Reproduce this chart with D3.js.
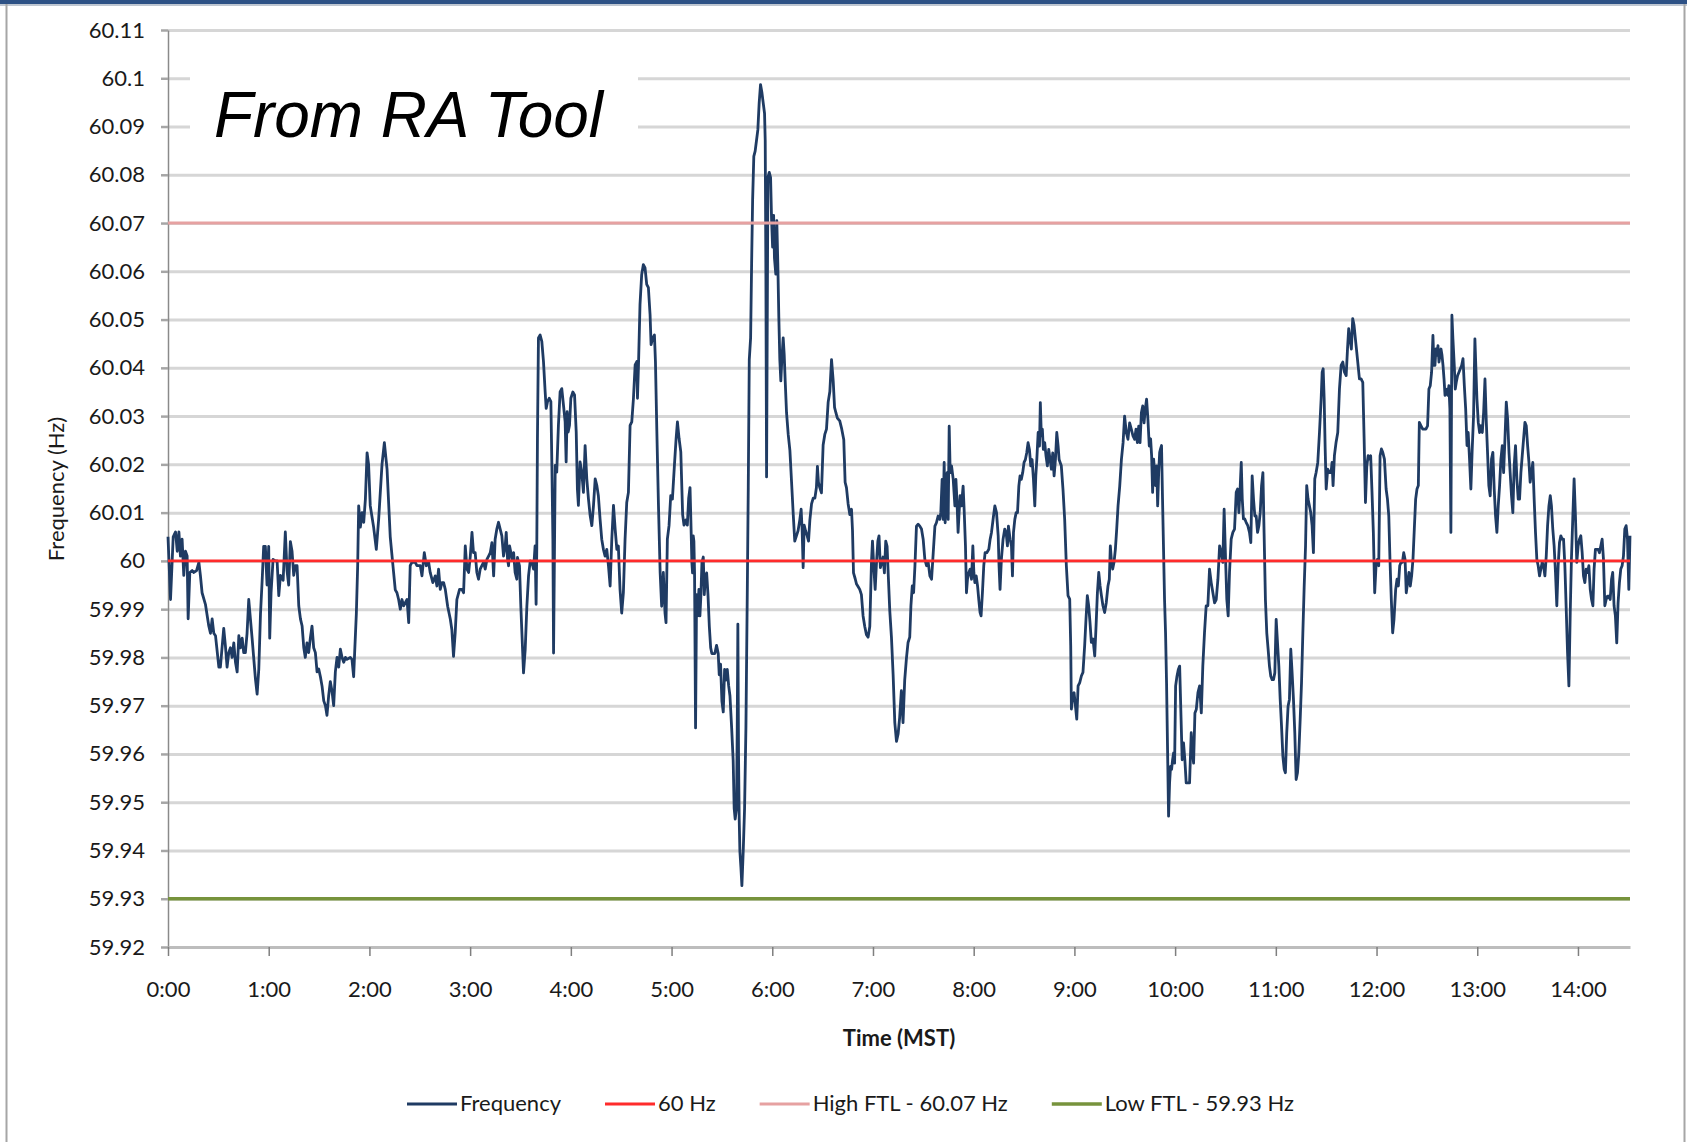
<!DOCTYPE html>
<html><head><meta charset="utf-8">
<script src="https://cdn.jsdelivr.net/npm/d3@7"></script>
<style>
html,body{margin:0;padding:0;background:#fff;}
svg{display:block;}
</style></head><body>
<svg id="chart" width="1687" height="1142"></svg>
<script>
// ---------------- DATA ----------------
const yTickValues = [60.11,60.1,60.09,60.08,60.07,60.06,60.05,60.04,60.03,60.02,60.01,60,59.99,59.98,59.97,59.96,59.95,59.94,59.93,59.92];
const yTickLabels = ["60.11","60.1","60.09","60.08","60.07","60.06","60.05","60.04","60.03","60.02","60.01","60","59.99","59.98","59.97","59.96","59.95","59.94","59.93","59.92"];
const xTickValues = [0,60,120,180,240,300,360,420,480,540,600,660,720,780,840]; // minutes
const xTickLabels = ["0:00","1:00","2:00","3:00","4:00","5:00","6:00","7:00","8:00","9:00","10:00","11:00","12:00","13:00","14:00"];
const timeDomain = [0, 871];
const freqDomain = [59.92, 60.11];
const seriesNames = ["Frequency","60 Hz","High FTL - 60.07 Hz","Low FTL - 59.93 Hz"];
const seriesColors = ["#1f3b63","#ff2b2b","#e6a1a1","#77933c"];
const referenceValues = [60, 60.07, 59.93]; // 60 Hz, High FTL, Low FTL
const annotationText = "From RA Tool";
// [minutes after 0:00 MST, frequency Hz]
const frequencySeries = [
[0,60.005],[1.5,59.992],[3.1,60.005],[4.5,60.006],[5.5,60.002],[6.5,60.006],[7.4,60.001],[8.4,60.0045],[9.4,59.997],[10.4,60.002],[11.4,60.001],[12.0,59.988],[13.0,59.9976],[14.4,59.998],[15.4,59.9976],[17.0,59.998],[18.4,59.9997],[19.3,59.997],[20.3,59.9934],[22.3,59.991],[24.3,59.9865],[25.3,59.985],[26.3,59.988],[27.3,59.985],[28.3,59.9845],[30.3,59.978],[31.2,59.978],[33.2,59.986],[34.2,59.9824],[35.2,59.978],[36.2,59.981],[37.2,59.982],[38.2,59.980],[39.2,59.983],[40.2,59.979],[41.2,59.977],[42.2,59.9845],[43.2,59.982],[44.2,59.984],[45.1,59.981],[46.1,59.981],[47.1,59.985],[48.1,59.992],[49.1,59.988],[50.1,59.984],[52.1,59.9755],[53.1,59.9724],[54.1,59.9776],[55.1,59.989],[56.1,59.996],[57.0,60.003],[58.0,60.003],[59.0,59.995],[60.0,60.003],[60.6,59.984],[61.4,59.9934],[62.6,60.0003],[64.0,60.000],[65.0,60.000],[66.0,59.9928],[67.0,59.997],[68.6,59.996],[69.9,60.006],[70.9,59.998],[71.9,59.995],[72.9,60.004],[73.9,60.002],[74.9,59.997],[75.9,59.999],[76.9,59.999],[77.9,59.9907],[78.9,59.988],[79.9,59.9865],[80.9,59.982],[81.8,59.980],[82.8,59.983],[83.8,59.981],[84.8,59.984],[85.8,59.9865],[86.8,59.982],[87.8,59.981],[88.8,59.977],[89.8,59.9776],[90.8,59.976],[91.8,59.974],[92.8,59.971],[93.8,59.970],[94.7,59.968],[95.7,59.972],[96.7,59.975],[97.7,59.973],[98.7,59.970],[99.7,59.977],[100.7,59.980],[101.7,59.978],[102.7,59.9817],[103.7,59.980],[104.7,59.979],[105.7,59.980],[106.6,59.9796],[108.6,59.980],[109.6,59.9796],[110.6,59.976],[111.2,59.981],[112.2,59.989],[113.0,59.999],[113.6,60.0114],[114.6,60.007],[115.6,60.010],[116.6,60.008],[117.6,60.0128],[118.6,60.0224],[119.5,60.020],[120.5,60.0114],[122.5,60.007],[124.1,60.0024],[125.5,60.0086],[127.5,60.020],[128.9,60.0245],[130.5,60.019],[132.4,60.005],[134.4,59.9976],[135.4,59.994],[136.4,59.9934],[137.4,59.992],[138.4,59.990],[139.4,59.992],[140.4,59.9907],[142.4,59.992],[143.4,59.9872],[144.3,59.999],[145.3,59.9997],[147.3,59.9997],[148.3,59.999],
[150.3,59.999],[151.3,59.9969],[152.7,60.0017],[153.9,59.999],[155.3,59.9997],[156.2,59.9976],[157.8,59.9955],[159.2,59.9969],[160.2,59.9948],[161.2,59.9983],[162.2,59.9941],[163.2,59.9955],[164.2,59.9955],[165.2,59.9941],[166.6,59.9906],[168.2,59.9879],[169.1,59.9858],[170.1,59.9802],[171.1,59.9851],[172.1,59.992],[173.7,59.9941],[175.1,59.9941],[176.1,59.9934],[177.1,60.0031],[178.1,59.9983],[179.1,59.9976],[180.1,60.001],[181.1,60.0059],[182.0,60.0017],[183.0,60.0017],[184.0,59.9976],[185.0,59.9962],[186.0,59.9983],[187.0,59.999],[188.0,59.9997],[189.0,59.9983],[190.0,60.0003],[191.0,60.001],[192.0,60.0017],[193.0,60.0038],[194.0,59.9969],[194.9,60.0045],[195.9,60.0066],[196.9,60.008],[197.9,60.0066],[198.9,60.0052],[199.9,60.001],[200.9,60.0031],[201.5,60.0059],[202.3,60.0003],[202.9,59.999],[203.5,60.0031],[204.3,60.0017],[205.1,60.0003],[205.9,60.0017],[206.8,59.9976],[207.8,59.9962],[208.2,60.0007],[209.4,59.999],[210.2,59.9906],[211.0,59.9837],[211.8,59.9768],[212.8,59.9816],[213.8,59.9906],[214.8,59.9969],[215.8,60.0],[216.8,59.9997],[217.8,59.9983],[218.7,60.0031],[219.3,59.991],[219.7,60.0024],[220.1,60.0253],[220.7,60.0462],[221.7,60.0468],[222.7,60.0455],[223.7,60.0413],[224.7,60.035],[225.3,60.0316],[226.1,60.033],[227.1,60.0337],[228.1,60.033],[228.7,60.0198],[229.3,60.0045],[229.7,59.9809],[230.3,60.0045],[230.7,60.0198],[231.6,60.0184],[232.6,60.0281],[233.6,60.035],[234.6,60.0357],[235.6,60.0323],[236.6,60.0288],[237.2,60.0205],[237.8,60.0309],[238.4,60.0267],[239.2,60.0281],[240.0,60.0337],[241.2,60.035],[242.2,60.0344],[243.2,60.0267],[243.9,60.0149],[244.5,60.0115],[245.5,60.0205],[246.5,60.0184],[247.5,60.0142],[248.5,60.0239],[249.5,60.017],[250.5,60.0128],[251.5,60.0094],[252.5,60.0073],[253.5,60.0115],[254.5,60.017],[255.5,60.0156],[256.4,60.0135],[257.4,60.0087],[258.4,60.0045],[259.4,60.0024],[260.4,60.001],[261.4,60.0024],[262.4,59.999],[263.4,59.9948],[264.4,60.0045],[265.4,60.0115],[266.4,60.0066],[267.4,60.0024],[268.3,60.0031],[269.3,59.9941],[270.3,59.9892],[271.3,59.9934],[272.3,60.0045],[273.3,60.0121],[274.3,60.0142],[275.3,60.0281],[276.3,60.0288],[277.3,60.0337],[278.3,60.0406],[279.3,60.0413],[279.7,60.0337],[280.3,60.0406],[281.2,60.0531],[282.2,60.0593],[283.2,60.0614],[284.2,60.0607],[285.2,60.0573],[286.2,60.0566],[287.2,60.051],[287.8,60.0448],[288.8,60.0462],[289.8,60.0468],[290.4,60.0413],[291.2,60.0274],[292.2,60.0115],[293.2,59.9976],[294.1,59.9906],[295.1,59.9976],[296.1,59.9892],[296.7,59.9872],[297.5,60.0045],[298.5,60.0073],[299.5,60.0135],[300.5,60.0128],[301.7,60.0198],[302.7,60.0253],[303.5,60.0288],[304.5,60.0253],[305.5,60.0226],
[306.6,60.0096],[307.4,60.0074],[308.6,60.0085],[309.4,60.0074],[310.2,60.013],[311.0,60.0152],[311.5,60.0085],[312.1,59.9997],[312.5,59.9975],[312.9,60.0052],[313.3,60.0041],[313.7,59.9975],[314.3,59.9654],[314.9,59.993],[315.5,59.9886],[316.3,59.9941],[316.9,59.9886],[317.5,59.993],[318.1,59.9997],[318.9,60.0008],[319.5,59.993],[320.1,59.9963],[320.9,59.9975],[321.7,59.993],[322.5,59.9864],[323.3,59.982],[324.0,59.9808],[324.8,59.9808],[325.8,59.9808],[326.8,59.9825],[327.8,59.9808],[328.4,59.9764],[329.2,59.9786],[330.0,59.9709],[330.8,59.9687],[331.6,59.9775],[332.4,59.9753],[333.2,59.9775],[334.0,59.9742],[334.8,59.972],[335.8,59.9654],[336.7,59.9587],[337.3,59.9487],[337.9,59.9465],[338.7,59.9487],[339.1,59.9642],[339.5,59.9869],[339.9,59.9598],[340.3,59.9465],[340.7,59.9399],[341.3,59.9366],[341.9,59.9327],[342.7,59.9399],[343.5,59.9487],[344.3,59.9654],[345.1,59.993],[345.7,60.0152],[346.3,60.0417],[347.1,60.0462],[347.7,60.0617],[348.3,60.0749],[349.0,60.0838],[349.8,60.0849],[350.6,60.0871],[351.4,60.0893],[352.2,60.0949],[353.0,60.0987],[353.8,60.0971],[354.6,60.0949],[355.4,60.0927],[355.8,60.0871],[356.2,60.0594],[356.6,60.0174],[357.0,60.0484],[357.4,60.0794],[358.2,60.0805],[359.0,60.0794],[359.6,60.0705],[360.2,60.065],[360.8,60.0716],[361.3,60.0628],[362.1,60.0594],[362.7,60.0705],[363.3,60.0617],[363.9,60.0506],[364.5,60.0417],[365.1,60.0373],[365.7,60.0417],[366.5,60.0462],[367.1,60.0428],[367.7,60.0373],[368.5,60.0307],[369.5,60.0262],[370.5,60.0229],[371.5,60.0163],[372.5,60.0096],[373.4,60.0041],[374.4,60.0052],[375.4,60.0063],[376.4,60.0085],[377.2,60.0107],[377.8,60.0063],[378.4,59.9986],[379.0,60.0074],[379.8,60.0063],[380.8,60.0052],[381.6,60.0041],[382.4,60.0085],[383.4,60.0118],[384.4,60.013],[385.4,60.013],[386.3,60.0152],[386.9,60.0196],[387.5,60.0163],[388.3,60.0152],[389.3,60.0141],[390.3,60.024],[391.3,60.0262],[392.3,60.0273],[393.3,60.0329],[394.3,60.0351],[395.3,60.0417],[396.3,60.0373],[397.1,60.0318],[397.9,60.0307],[398.8,60.0296],[400.2,60.029],[401.4,60.0273],[402.6,60.0251],[403.4,60.0163],[404.2,60.0152],[405.2,60.0118],[406.2,60.0096],[407.2,60.0107],[407.8,60.0063],[408.4,59.9975],[409.4,59.9963],[410.2,59.9952],[411.1,59.9947],[412.1,59.9941],[413.1,59.993],[414.1,59.9886],[415.1,59.9864],[416.1,59.9847],[417.1,59.9842],[418.1,59.9864],[419.1,59.9997],[419.7,60.0041],[420.5,59.9986],[421.3,59.9941],[422.1,59.9997],[422.9,60.0041],[423.6,60.0052],[424.4,59.9986],[425.2,59.9997],[426.0,60.0008],[426.8,59.9975],[427.6,60.0041],[428.4,60.003],[429.2,59.9963],[430.0,59.9897],[431.0,59.9842],[432.0,59.9764],[433.0,59.9665],[434.0,59.9626],[435.0,59.9642],[435.9,59.9676],[436.9,59.9731],[437.9,59.9665],[438.9,59.9753],[439.9,59.9797],[440.9,59.9831],[441.9,59.9842],
[442.6,59.9907],[443.4,59.9948],[444.2,59.9934],[445.0,59.999],[445.9,60.0072],[446.9,60.0076],[447.9,60.0072],[448.9,60.0066],[449.9,60.0045],[450.9,60.0003],[451.9,59.999],[452.9,59.9997],[453.9,59.9969],[454.9,59.9962],[455.9,60.0017],[456.9,60.0072],[457.8,60.0079],[458.8,60.0093],[459.8,60.0086],[460.4,60.01],[461.2,60.0169],[461.8,60.0086],[462.4,60.0204],[463.0,60.0079],[463.6,60.0135],[464.2,60.0183],[464.8,60.0086],[465.4,60.0279],[466.0,60.0183],[466.8,60.0197],[467.8,60.0169],[468.8,60.0114],[469.4,60.0169],[470.0,60.0128],[470.7,60.0059],[471.3,60.01],[471.9,60.0135],[472.7,60.0114],[473.7,60.0155],[474.3,60.0107],[475.1,60.0031],[475.7,59.9934],[476.3,59.9962],[477.1,59.9976],[477.9,59.9983],[478.7,59.9962],[479.5,60.0031],[480.1,59.9976],[480.7,59.9955],[481.5,59.9969],[482.3,59.9948],[483.0,59.9921],[483.8,59.9893],[484.4,59.9886],[485.2,59.9934],[486.0,59.999],[486.8,60.0017],[487.8,60.0017],[489.0,60.0024],[489.8,60.0045],[490.6,60.0059],[491.8,60.0093],[492.6,60.0114],[493.6,60.01],[494.6,60.0052],[495.1,59.999],[495.7,59.9941],[496.5,60.0003],[497.5,60.0045],[498.5,60.0066],[499.3,60.0059],[500.1,60.0031],[500.7,60.0072],[501.7,60.0045],[502.5,60.0031],[503.1,59.9969],[503.7,60.0059],[504.5,60.0086],[505.3,60.01],[506.1,60.01],[506.9,60.0155],[507.6,60.0176],[508.4,60.0169],[509.2,60.0183],[510.0,60.0204],[510.8,60.021],[511.6,60.0224],[512.4,60.0245],[513.2,60.0231],[514.0,60.0197],[514.8,60.021],[515.6,60.0169],[516.4,60.0114],[517.0,60.0176],[517.6,60.021],[518.4,60.0266],[519.2,60.0238],[519.7,60.0328],[520.3,60.0259],[520.9,60.0273],[521.5,60.0231],[522.3,60.0245],[523.1,60.0217],[523.9,60.0197],[524.7,60.0231],[525.5,60.021],[526.3,60.019],[527.1,60.0224],[527.9,60.0176],[528.7,60.021],[529.5,60.0266],[530.3,60.0238],[530.9,60.021],[531.5,60.0204],[532.2,60.0197],[533.2,60.0148],[534.2,60.0086],[535.2,59.999],[536.2,59.9928],[537.2,59.9921],[537.8,59.9824],[538.2,59.9693],[539.0,59.9721],[539.8,59.9727],[540.6,59.97],[541.4,59.9672],[542.2,59.9741],[543.2,59.9748],[544.2,59.9762],[545.1,59.9769],[546.1,59.9824],[546.9,59.9879],[547.7,59.9928],[548.5,59.9907],[549.3,59.9872],[550.1,59.9831],[551.1,59.9838],[552.1,59.9803],[552.9,59.9865],[553.7,59.9934],[554.5,59.9976],[555.3,59.9948],[556.1,59.9928],[557.0,59.9907],[558.0,59.9893],[559.0,59.9914],[560.0,59.9948],[560.8,59.9962],[561.4,60.0031],[562.0,60.0003],[562.8,59.9983],[563.6,59.9997],[564.4,60.0024],[565.2,60.0066],[566.0,60.0114],[567.0,60.0155],[568.0,60.021],[569.0,60.0245],[569.9,60.03],[570.9,60.0266],[571.9,60.0252],[572.9,60.0286],[573.9,60.0273],[574.9,60.0259],[575.9,60.0252],[576.7,60.0273],[577.5,60.0245],[578.3,60.0279],[579.1,60.0245],[579.9,60.0307],[580.7,60.0321],[581.5,60.0286],[582.2,60.0314],[583.0,60.0335],[583.8,60.0293],[584.6,60.0238],
[585.4,60.0253],[586.0,60.0218],[586.6,60.0142],[587.2,60.0211],[587.8,60.0183],[588.4,60.0156],[589.0,60.0197],[589.6,60.0114],[590.2,60.0183],[590.8,60.0225],[591.3,60.0232],[591.9,60.0239],[592.5,60.0128],[593.1,60.0024],[593.7,59.992],[594.3,59.9851],[594.9,59.9747],[595.5,59.9609],[596.1,59.9471],[596.7,59.954],[597.3,59.9574],[597.9,59.9568],[598.5,59.9588],[599.1,59.9602],[599.7,59.9581],[600.3,59.9741],[601.1,59.9761],[601.9,59.9775],[602.7,59.9782],[603.5,59.9678],[604.2,59.9588],[605.0,59.9623],[605.8,59.9588],[606.6,59.954],[607.6,59.954],[608.6,59.954],[609.6,59.9644],[610.2,59.9609],[611.0,59.9581],[611.8,59.9685],[612.6,59.9692],[613.6,59.9727],[614.6,59.9741],[615.6,59.9685],[616.5,59.9782],[617.5,59.9851],[618.5,59.9907],[619.5,59.9907],[620.5,59.9983],[621.5,59.9955],[622.5,59.9934],[623.5,59.9913],[624.5,59.992],[625.5,59.9962],[626.5,60.0031],[627.5,60.0017],[628.4,59.9997],[629.2,60.0107],[630.0,60.001],[630.8,59.992],[631.6,59.9886],[632.4,59.9976],[633.4,60.0045],[634.4,60.0059],[635.4,60.0066],[636.4,60.0142],[637.2,60.0149],[638.0,60.01],[638.8,60.0156],[639.4,60.0204],[640.0,60.0128],[640.7,60.0087],[641.5,60.0087],[642.3,60.008],[643.3,60.0073],[644.3,60.0059],[645.1,60.0038],[645.9,60.0176],[646.7,60.0128],[647.5,60.0093],[648.3,60.0093],[649.1,60.0059],[649.9,60.0073],[650.7,60.01],[651.5,60.0156],[652.3,60.0183],[653.0,60.0059],[653.8,59.992],[654.6,59.9851],[655.4,59.9817],[656.2,59.9782],[657.0,59.9761],[657.8,59.9754],[658.6,59.9754],[659.4,59.9768],[660.2,59.9879],[661.0,59.983],[661.8,59.9782],[662.6,59.9713],[663.4,59.9657],[664.2,59.9595],[665.0,59.9568],[665.7,59.9561],[666.5,59.9644],[667.3,59.9699],[668.1,59.9713],[668.9,59.9817],[669.7,59.9768],[670.5,59.9713],[671.3,59.9644],[672.1,59.9547],[672.9,59.9561],[673.7,59.9602],[674.5,59.9671],[675.3,59.9747],[676.1,59.9851],[676.9,59.9948],[677.7,60.0031],[678.4,60.0156],[679.2,60.0128],[680.0,60.0114],[680.8,60.01],[681.6,60.0073],[682.4,60.0017],[683.2,60.017],[684.0,60.0183],[685.0,60.0204],[686.0,60.0266],[687.0,60.0336],[687.6,60.0391],[688.2,60.0398],[688.8,60.0336],[689.4,60.0232],[690.0,60.0149],[690.9,60.019],[691.9,60.0183],[692.9,60.0183],[693.5,60.0204],[694.1,60.0156],[694.9,60.0218],[695.9,60.0246],[696.9,60.0266],[697.9,60.0356],[698.9,60.0405],[699.9,60.0412],[700.9,60.0391],[701.9,60.0384],[702.7,60.0439],[703.4,60.0481],[704.2,60.046],[705.0,60.0439],[705.8,60.0502],[706.6,60.0488],[707.4,60.046],[708.2,60.0433],[709.0,60.0405],[709.8,60.0377],[710.8,60.0377],[711.8,60.037],[712.6,60.0253],[713.4,60.0121],[714.2,60.0197],[715.0,60.0218],[715.7,60.0211],[716.5,60.0218],[717.3,60.0142],[718.1,60.0059],[718.9,59.9934],[719.7,59.999],[720.5,60.0003],[721.3,59.999],[722.1,60.0218],[722.9,60.0232],[723.7,60.0225],[724.7,60.0211],[725.7,60.0149],[726.5,60.0128],[727.3,60.0093],[728.0,60.0003],[728.8,59.992],[729.6,59.9851],[730.4,59.9879],
[731.4,59.9941],[732.2,59.9962],[733.0,59.9948],[733.8,59.999],[734.6,59.9997],[735.4,59.9997],[736.2,60.0017],[737.0,60.0003],[737.7,59.9934],[738.5,59.9955],[739.3,59.9976],[740.1,59.9948],[740.9,59.9969],[741.7,60.0003],[742.5,60.0066],[743.3,60.0128],[744.1,60.0149],[744.9,60.0156],[745.5,60.0287],[746.5,60.028],[747.5,60.0273],[748.5,60.0273],[749.4,60.0273],[750.4,60.028],[751.2,60.0356],[752.0,60.0363],[752.8,60.0391],[753.6,60.0467],[754.2,60.0405],[754.8,60.0405],[755.4,60.0439],[756.0,60.0426],[756.6,60.0446],[757.2,60.0412],[757.8,60.0426],[758.4,60.0439],[759.0,60.0426],[759.6,60.0405],[760.2,60.0377],[760.8,60.0343],[761.4,60.0349],[762.0,60.0356],[762.5,60.0343],[763.1,60.0363],[763.7,60.0315],[764.3,60.0059],[764.9,60.0509],[765.5,60.046],[766.3,60.0405],[766.9,60.0356],[767.5,60.037],[768.3,60.0384],[769.1,60.0391],[769.9,60.0398],[770.7,60.0405],[771.5,60.0419],[772.3,60.0363],[773.1,60.0315],[773.9,60.0239],[774.6,60.0266],[775.4,60.0211],[776.2,60.0149],[777.0,60.0232],[777.8,60.0301],[778.6,60.046],[779.2,60.0398],[779.8,60.0336],[780.6,60.0287],[781.4,60.0266],[782.2,60.028],[783.0,60.0266],[783.8,60.0308],[784.6,60.0377],[785.4,60.0287],[786.2,60.0218],[786.9,60.0156],[787.7,60.0135],[788.5,60.0211],[789.3,60.0225],[790.1,60.0149],[790.9,60.0093],[791.7,60.0059],[792.5,60.0114],[793.3,60.0156],[794.1,60.0211],[794.9,60.0239],[795.7,60.0183],[796.5,60.0253],[797.3,60.0329],[798.1,60.0294],[798.9,60.0225],[799.6,60.0183],[800.4,60.0135],[801.2,60.01],[802.0,60.0197],[802.8,60.0239],[803.6,60.017],[804.4,60.0128],[805.2,60.0128],[806.0,60.0183],[806.8,60.0218],[807.6,60.0253],[808.4,60.0287],[809.2,60.028],[810.0,60.0239],[810.8,60.0204],[811.5,60.0163],[812.3,60.0183],[813.1,60.0204],[813.9,60.0128],[814.7,60.0059],[815.5,60.0003],[816.3,59.999],[817.1,59.9969],[817.9,59.9983],[818.7,59.9997],[819.5,59.999],[820.3,59.9969],[821.1,60.001],[821.9,60.0073],[822.7,60.0114],[823.5,60.0135],[824.2,60.0114],[825.0,60.0066],[825.8,60.0031],[826.6,59.9976],[827.4,59.9907],[828.2,59.999],[829.0,60.0038],[829.8,60.0052],[830.6,60.0045],[831.4,60.0045],[832.2,59.999],[833.0,59.99],[833.8,59.981],[834.6,59.9741],[835.4,59.9893],[836.1,60.0003],[836.9,60.0087],[837.7,60.017],[838.5,60.0093],[839.3,59.9997],[840.1,60.0031],[840.9,60.0045],[841.7,60.0052],[842.5,60.0017],[843.3,59.9969],[844.1,59.9955],[844.9,59.9983],[845.7,59.9976],[846.5,59.999],[847.3,59.9941],[848.1,59.992],[848.9,59.9907],[849.6,59.9983],[850.4,60.0024],[851.2,60.0024],[852.0,60.0024],[852.8,60.0017],[853.6,60.0031],[854.4,60.0045],[855.2,60.0003],[856.0,59.9907],[856.8,59.992],[857.6,59.9927],[858.4,59.9927],[859.2,59.992],[860.0,59.9962],[860.7,59.9976],[861.5,59.9907],[862.3,59.9886],[863.1,59.983],[863.9,59.9913],[864.7,59.9955],[865.5,59.9983],[866.3,59.999],[867.1,60.001],[867.9,60.0066],[868.7,60.0073],[869.5,60.0045],[870.3,59.9941],[871.0,60.0052]
];

// ---------------- LAYOUT ----------------
const W = 1687, H = 1142;
const plot = {left: 168, right: 1630, top: 30, bottom: 947};
const FONT = "Lato, 'Open Sans', sans-serif";
const TEXT = "#1a1a1a";

const svg = d3.select("#chart");
svg.append("rect").attr("width", W).attr("height", H).attr("fill", "#fff");

// frame
svg.append("rect").attr("x",0).attr("y",0).attr("width",W).attr("height",4).attr("fill","#2d5185");
svg.append("line").attr("x1",0).attr("x2",W).attr("y1",5).attr("y2",5).attr("stroke","#a9b3c2").attr("stroke-width",1.5);
svg.append("line").attr("x1",6.5).attr("x2",6.5).attr("y1",4).attr("y2",H).attr("stroke","#a6a6a6").attr("stroke-width",2);
svg.append("line").attr("x1",1684.5).attr("x2",1684.5).attr("y1",4).attr("y2",H).attr("stroke","#a6a6a6").attr("stroke-width",2);

const x = d3.scaleLinear().domain(timeDomain).range([plot.left, plot.right]);
const y = d3.scaleLinear().domain(freqDomain).range([plot.bottom, plot.top]);

// gridlines
const grid = svg.append("g").attr("transform", `translate(${plot.left},0)`)
  .call(d3.axisLeft(y).tickValues(yTickValues).tickSize(-(plot.right - plot.left)).tickFormat(""));
grid.select(".domain").remove();
grid.selectAll(".tick line").attr("stroke", "#d6d6d6").attr("stroke-width", 3);

// white box behind annotation
svg.append("rect").attr("x", 190).attr("y", 48).attr("width", 448).attr("height", 115).attr("fill", "#fff");

// y axis
const yAxis = svg.append("g").attr("transform", `translate(${plot.left},0)`)
  .call(d3.axisLeft(y).tickValues(yTickValues).tickSize(7).tickSizeOuter(0).tickPadding(16)
    .tickFormat((d, i) => yTickLabels[i]));
yAxis.select(".domain").attr("stroke", "#8a8a8a").attr("stroke-width", 1.5);
yAxis.selectAll(".tick line").attr("stroke", "#a6a6a6").attr("stroke-width", 2.5);
yAxis.selectAll(".tick text").attr("font-family", FONT).attr("font-size", 22).attr("fill", TEXT);

// x axis
const xAxis = svg.append("g").attr("transform", `translate(0,${plot.bottom})`)
  .call(d3.axisBottom(x).tickValues(xTickValues).tickSize(9).tickSizeOuter(0).tickPadding(25)
    .tickFormat((d, i) => xTickLabels[i]));
xAxis.select(".domain").attr("stroke", "#bdbdbd").attr("stroke-width", 3);
xAxis.selectAll(".tick line").attr("stroke", "#7f7f7f").attr("stroke-width", 1.5);
xAxis.selectAll(".tick text").attr("font-family", FONT).attr("font-size", 22).attr("fill", TEXT);

// frequency series
const line = d3.line().x(d => x(d[0])).y(d => y(d[1]));
svg.append("path").datum(frequencySeries)
  .attr("d", line).attr("fill", "none").attr("stroke", seriesColors[0])
  .attr("stroke-width", 2.8).attr("stroke-linejoin", "round");

// reference lines
const refWidths = [2.8, 3, 3.5];
referenceValues.forEach((v, i) => {
  svg.append("path")
    .datum([[timeDomain[0], v], [timeDomain[1], v]])
    .attr("d", line).attr("fill", "none")
    .attr("stroke", seriesColors[i + 1]).attr("stroke-width", refWidths[i]);
});

// annotation
svg.append("text").attr("x", 214).attr("y", 137)
  .attr("font-family", "'Liberation Sans', Arial, sans-serif").attr("font-style", "italic")
  .attr("font-size", 65).attr("fill", "#000")
  .attr("textLength", 389).attr("lengthAdjust", "spacingAndGlyphs")
  .text(annotationText);

// axis titles
svg.append("text").attr("transform", "translate(64,489) rotate(-90)")
  .attr("text-anchor", "middle").attr("font-family", FONT).attr("font-size", 22).attr("fill", TEXT)
  .text("Frequency (Hz)");
svg.append("text").attr("x", 899).attr("y", 1046)
  .attr("text-anchor", "middle").attr("font-family", FONT).attr("font-size", 22)
  .attr("font-weight", "bold").attr("fill", TEXT)
  .text("Time (MST)");

// legend
const legendWidths = [2.8, 2.8, 3, 3.5];
let lx = 407;
seriesNames.forEach((name, i) => {
  const g = svg.append("g");
  g.append("line").attr("x1", lx).attr("x2", lx + 50).attr("y1", 1104).attr("y2", 1104)
    .attr("stroke", seriesColors[i]).attr("stroke-width", legendWidths[i]);
  const t = g.append("text").attr("x", lx + 53).attr("y", 1111)
    .attr("font-family", FONT).attr("font-size", 22).attr("fill", TEXT).text(name);
  lx = lx + 53 + t.node().getComputedTextLength() + 44;
});
</script>
</body></html>
